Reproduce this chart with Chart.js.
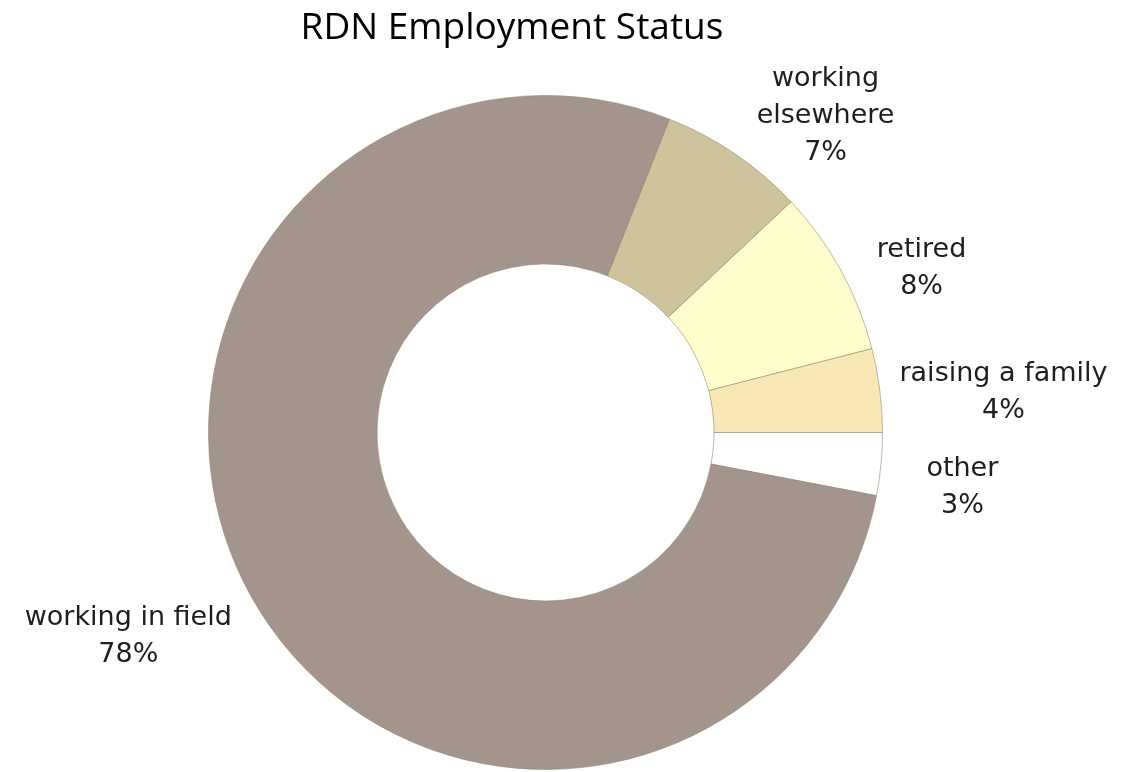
<!DOCTYPE html>
<html>
<head>
<meta charset="utf-8">
<title>RDN Employment Status</title>
<script src="https://cdn.jsdelivr.net/npm/chart.js@4/dist/chart.umd.min.js"></script>
<style>
    html, body { margin: 0; padding: 0; background: #fff; }
    #wrap { width: 1127px; height: 772px; }
</style>
</head>
<body>
<div id="wrap"><canvas id="chart" width="1127" height="772"></canvas></div>
<script>
// values, clockwise from 3 o'clock
const categories = ['other', 'working in field', 'working elsewhere', 'retired', 'raising a family'];
const shares = [3, 78, 7, 8, 4];
const colors = ['#ffffff', '#a3958b', '#cec39a', '#fffdcc', '#f7e8b5'];

// where each label block sits, relative to the ring centre, in outer radii
const labelOffsets = [
    [1.237, 0.162],
    [-1.238, 0.605],
    [0.831, -0.940],
    [1.116, -0.488],
    [1.359, -0.119],
];

const TITLE = 'RDN Employment Status';

const labelPlugin = {
    id: 'sliceLabels',
    afterDraw(chart) {
        const { ctx } = chart;
        const arcs = chart.getDatasetMeta(0).data;

        ctx.save();
        ctx.fillStyle = '#000';
        ctx.font = '37px "Open Sans", sans-serif';
        ctx.textAlign = 'center';
        ctx.textBaseline = 'alphabetic';
        ctx.fillText(TITLE, 512, 39);

        ctx.font = '27px "DejaVu Sans", sans-serif';
        ctx.fillStyle = '#1e1e1e';
        ctx.textBaseline = 'middle';
        const lineHeight = 37;

        arcs.forEach((arc, i) => {
            const { x, y, outerRadius } = arc.getProps(['x', 'y', 'outerRadius'], true);
            const [ox, oy] = labelOffsets[i];
            const cx = x + ox * outerRadius;
            const cy = y + oy * outerRadius;
            const name = categories[i] === 'working elsewhere'
                ? ['working', 'elsewhere']
                : [categories[i]];
            const lines = [...name, `${shares[i]}%`];

            lines.forEach((line, j) => {
                ctx.fillText(line, cx, cy + (j - (lines.length - 1) / 2) * lineHeight);
            });
        });
        ctx.restore();
    },
};

new Chart(document.getElementById('chart'), {
    type: 'doughnut',
    data: {
        labels: categories,
        datasets: [{
            data: shares,
            backgroundColor: colors,
            borderColor: 'rgba(140, 128, 110, 0.55)',
            borderWidth: 1,
        }],
    },
    options: {
        responsive: false,
        animation: false,
        devicePixelRatio: 1,
        rotation: 90,
        cutout: '50%',
        layout: {
            padding: { left: 208, right: 244, top: 95, bottom: 2 },
        },
        plugins: {
            legend: { display: false },
            title: { display: false },
            tooltip: { enabled: false },
        },
    },
    plugins: [labelPlugin],
});
</script>
</body>
</html>
